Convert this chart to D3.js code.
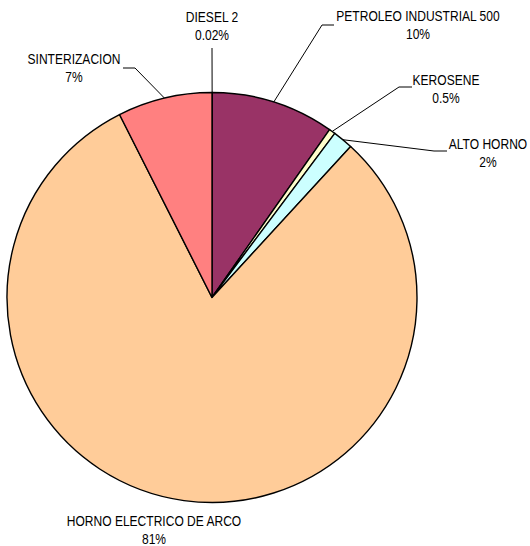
<!DOCTYPE html>
<html>
<head>
<meta charset="utf-8">
<script src="https://cdn.jsdelivr.net/npm/d3@7/dist/d3.min.js"></script>
<style>
  html, body { margin: 0; padding: 0; background: #fff; }
  svg { display: block; }
  text { font-family: "Liberation Sans", Arial, sans-serif; font-size: 14px; fill: #000; }
</style>
</head>
<body>
<svg id="chart" width="530" height="546"></svg>
<script>
// Fuel / process shares, clockwise from 12 o'clock
const categories = ["DIESEL 2", "PETROLEO INDUSTRIAL 500", "KEROSENE", "ALTO HORNO", "HORNO ELECTRICO DE ARCO", "SINTERIZACION"];
const shares = [0.02, 9.7, 0.5, 1.6, 80.73, 7.45];
const shareLabels = ["0.02%", "10%", "0.5%", "2%", "81%", "7%"];
const sliceColors = ["#9999FF", "#993366", "#FFFFCC", "#CCFFFF", "#FFCC99", "#FF8080"];

// Label placement: text centre x, first baseline y, and the leader elbow / end
const labelLayout = {
  "DIESEL 2":                { x: 212, y: 22, elbow: [212, 48], end: null },
  "PETROLEO INDUSTRIAL 500": { x: 418, y: 21, elbow: [322, 25], end: [334, 25] },
  "KEROSENE":                { x: 446, y: 85, elbow: [399, 87], end: [412, 87] },
  "ALTO HORNO":              { x: 488, y: 149, elbow: [434, 151], end: [447, 151] },
  "HORNO ELECTRICO DE ARCO": { x: 154, y: 526, elbow: null, end: null },
  "SINTERIZACION":           { x: 74, y: 64, elbow: [135, 68], end: [123, 68] }
};

const cx = 212, cy = 297.5, radius = 205, lineGap = 18;
const condense = 0.86; // labels use a condensed face

const data = categories.map((c, i) => ({ name: c, value: shares[i], label: shareLabels[i], color: sliceColors[i] }));

const svg = d3.select("#chart");
const g = svg.append("g").attr("transform", `translate(${cx},${cy})`);

const pie = d3.pie().value(d => d.value).sort(null);
const arc = d3.arc().innerRadius(0).outerRadius(radius);
const edgeArc = d3.arc().innerRadius(radius).outerRadius(radius);

const arcs = pie(data);

g.selectAll("path.slice")
  .data(arcs)
  .enter().append("path")
  .attr("class", "slice")
  .attr("d", arc)
  .attr("fill", d => d.data.color)
  .attr("stroke", "#000")
  .attr("stroke-width", 1.4)
  .attr("stroke-linejoin", "round");

// Leader lines from the slice rim to each label
arcs.forEach(a => {
  const lay = labelLayout[a.data.name];
  if (!lay.elbow) return;
  const p = edgeArc.centroid(a);
  const pts = [[cx + p[0], cy + p[1]], lay.elbow];
  if (lay.end) pts.push(lay.end);
  svg.append("path")
    .attr("d", d3.line()(pts))
    .attr("fill", "none")
    .attr("stroke", "#000")
    .attr("stroke-width", 1);
});

// Two-line labels: category name, then share
arcs.forEach(a => {
  const lay = labelLayout[a.data.name];
  const t = svg.append("text")
    .attr("text-anchor", "middle")
    .attr("transform", `translate(${lay.x},${lay.y}) scale(${condense},1)`);
  t.append("tspan").attr("x", 0).attr("y", 0).text(a.data.name);
  t.append("tspan").attr("x", 0).attr("y", lineGap).text(a.data.label);
});
</script>
</body>
</html>
